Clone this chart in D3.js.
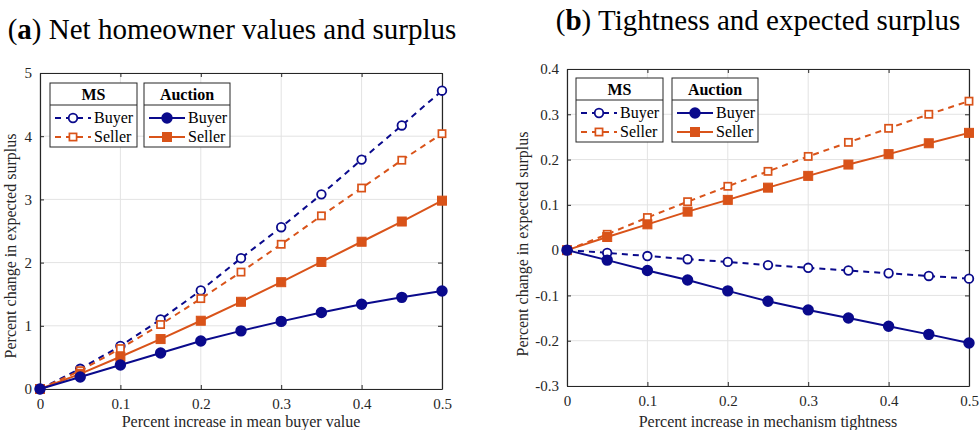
<!DOCTYPE html>
<html>
<head>
<meta charset="utf-8">
<script src="https://cdn.jsdelivr.net/npm/d3@7"></script>
<style>
  body { margin: 0; background: #fff; }
  text { font-family: "Liberation Serif", "Times New Roman", serif; }
</style>
</head>
<body>
<svg id="chart" width="979" height="430"></svg>
<script>
// x values shared by both panels
var xVals = [0, 0.05, 0.1, 0.15, 0.2, 0.25, 0.3, 0.35, 0.4, 0.45, 0.5];
var xTicks = [0, 0.1, 0.2, 0.3, 0.4, 0.5];

// panel (a) : net homeowner values
var aMsBuyer = [0, 0.32, 0.68, 1.10, 1.56, 2.07, 2.56, 3.08, 3.63, 4.17, 4.72];
var aMsSeller = [0, 0.29, 0.64, 1.02, 1.43, 1.85, 2.29, 2.74, 3.18, 3.62, 4.04];
var aAucBuyer = [0, 0.19, 0.38, 0.57, 0.76, 0.92, 1.07, 1.21, 1.34, 1.45, 1.55];
var aAucSeller = [0, 0.24, 0.51, 0.79, 1.08, 1.38, 1.69, 2.01, 2.33, 2.65, 2.98];
var aYTicks = [0, 1, 2, 3, 4, 5];

// panel (b) : tightness
var bMsBuyer = [0, -0.006, -0.013, -0.020, -0.026, -0.033, -0.039, -0.045, -0.051, -0.057, -0.063];
var bMsSeller = [0, 0.035, 0.072, 0.107, 0.141, 0.174, 0.207, 0.238, 0.269, 0.300, 0.329];
var bAucBuyer = [0, -0.022, -0.045, -0.066, -0.090, -0.113, -0.132, -0.150, -0.168, -0.186, -0.205];
var bAucSeller = [0, 0.029, 0.057, 0.085, 0.111, 0.138, 0.164, 0.189, 0.212, 0.236, 0.259];
var bYTicks = [-0.3, -0.2, -0.1, 0, 0.1, 0.2, 0.3, 0.4];

var blue = "#0a0a8c";
var orange = "#d95319";
var axisCol = "#262626";

var svg = d3.select("#chart");

function drawPanel(opt) {
  var x = d3.scaleLinear().domain([0, 0.5]).range([opt.left, opt.right]);
  var y = d3.scaleLinear().domain(opt.yDomain).range([opt.bottom, opt.top]);
  var g = svg.append("g");

  // grid
  g.selectAll(".gx").data(xTicks).enter().append("line")
    .attr("x1", function(d){ return x(d); }).attr("x2", function(d){ return x(d); })
    .attr("y1", opt.top).attr("y2", opt.bottom)
    .attr("stroke", "#e3e3e3").attr("stroke-width", 1);
  g.selectAll(".gy").data(opt.yTicks).enter().append("line")
    .attr("x1", opt.left).attr("x2", opt.right)
    .attr("y1", function(d){ return y(d); }).attr("y2", function(d){ return y(d); })
    .attr("stroke", "#e3e3e3").attr("stroke-width", 1);

  // axes, ticks inside (matlab box style)
  var fmt = function(d){ return d === 0 ? "0" : String(+d.toFixed(1)); };
  var bx = g.append("g").attr("transform", "translate(0," + opt.bottom + ")")
    .call(d3.axisBottom(x).tickValues(xTicks).tickSizeInner(-4).tickSizeOuter(0).tickPadding(9).tickFormat(fmt));
  var tx = g.append("g").attr("transform", "translate(0," + opt.top + ")")
    .call(d3.axisTop(x).tickValues(xTicks).tickSizeInner(-4).tickSizeOuter(0).tickFormat(""));
  var ly = g.append("g").attr("transform", "translate(" + opt.left + ",0)")
    .call(d3.axisLeft(y).tickValues(opt.yTicks).tickSizeInner(-4).tickSizeOuter(0).tickPadding(8).tickFormat(fmt));
  var ry = g.append("g").attr("transform", "translate(" + opt.right + ",0)")
    .call(d3.axisRight(y).tickValues(opt.yTicks).tickSizeInner(-4).tickSizeOuter(0).tickFormat(""));
  [bx, tx, ly, ry].forEach(function(a){
    a.select(".domain").attr("stroke", axisCol).attr("stroke-width", 1.2);
    a.selectAll(".tick line").attr("stroke", axisCol);
    a.selectAll("text").attr("fill", axisCol).style("font-size", "15px")
      .style("font-family", "'Liberation Serif', serif");
  });

  var line = d3.line().x(function(d, i){ return x(xVals[i]); }).y(function(d){ return y(d); });

  var series = [
    {vals: opt.msBuyer, col: blue, dash: "6,5", mark: "circle", fill: "#fff"},
    {vals: opt.msSeller, col: orange, dash: "6,5", mark: "square", fill: "#fff"},
    {vals: opt.aucSeller, col: orange, dash: null, mark: "square", fill: orange},
    {vals: opt.aucBuyer, col: blue, dash: null, mark: "circle", fill: blue}
  ];
  series.forEach(function(s){
    g.append("path").datum(s.vals).attr("d", line)
      .attr("fill", "none").attr("stroke", s.col).attr("stroke-width", 2)
      .attr("stroke-dasharray", s.dash);
    drawMarkers(g, s.vals.map(function(v, i){ return [x(xVals[i]), y(v)]; }), s);
  });

  // legends
  drawLegend(g, opt.legX, opt.legY, "MS", true);
  drawLegend(g, opt.legX + opt.legGap, opt.legY, "Auction", false);

  // labels
  svg.append("text").attr("x", (opt.left + opt.right) / 2).attr("y", 427)
    .attr("text-anchor", "middle").attr("fill", axisCol).style("font-size", "16px")
    .text(opt.xLabel);
  svg.append("text")
    .attr("transform", "translate(" + opt.yLabX + "," + opt.yLabY + ") rotate(-90)")
    .attr("text-anchor", "middle").attr("fill", axisCol).style("font-size", "16px")
    .text("Percent change in expected surplus");

  var t = svg.append("text").attr("x", opt.titleX).attr("y", opt.titleY)
    .attr("text-anchor", "middle").attr("fill", "#000").style("font-size", "29px");
  t.append("tspan").text("(");
  t.append("tspan").attr("font-weight", "bold").text(opt.tag);
  t.append("tspan").text(") " + opt.title);
}

function drawMarkers(g, pts, s) {
  if (s.mark === "circle") {
    g.selectAll(null).data(pts).enter().append("circle")
      .attr("cx", function(d){ return d[0]; }).attr("cy", function(d){ return d[1]; })
      .attr("r", s.fill === "#fff" ? 4.3 : 4.8)
      .attr("fill", s.fill).attr("stroke", s.col).attr("stroke-width", 1.8);
  } else {
    var h = s.fill === "#fff" ? 3.6 : 4.5;
    g.selectAll(null).data(pts).enter().append("rect")
      .attr("x", function(d){ return d[0] - h; }).attr("y", function(d){ return d[1] - h; })
      .attr("width", 2 * h).attr("height", 2 * h)
      .attr("fill", s.fill).attr("stroke", s.col).attr("stroke-width", s.fill === "#fff" ? 1.7 : 1);
  }
}

function drawLegend(g, lx, ly, head, open) {
  var w = open ? 87 : 86, hh = 22, h = 64;
  g.append("rect").attr("x", lx).attr("y", ly).attr("width", w).attr("height", h)
    .attr("fill", "#fff").attr("stroke", axisCol).attr("stroke-width", 1);
  g.append("line").attr("x1", lx).attr("x2", lx + w).attr("y1", ly + hh).attr("y2", ly + hh)
    .attr("stroke", axisCol).attr("stroke-width", 1);
  g.append("text").attr("x", lx + w / 2).attr("y", ly + 17).attr("text-anchor", "middle")
    .attr("font-weight", "bold").style("font-size", "16px").attr("fill", "#000").text(head);
  var rows = [{lab: "Buyer", col: blue, mark: "circle"}, {lab: "Seller", col: orange, mark: "square"}];
  rows.forEach(function(r, i){
    var yy = ly + hh + 13 + i * 19;
    g.append("line").attr("x1", lx + 5).attr("x2", lx + 41).attr("y1", yy).attr("y2", yy)
      .attr("stroke", r.col).attr("stroke-width", 2).attr("stroke-dasharray", open ? "6,5" : null);
    drawMarkers(g, [[lx + 23, yy]], {mark: r.mark, col: r.col, fill: open ? "#fff" : r.col});
    g.append("text").attr("x", lx + 44).attr("y", yy + 5).style("font-size", "16px")
      .attr("fill", "#000").text(r.lab);
  });
}

drawPanel({
  left: 40, right: 442, top: 73, bottom: 389,
  yDomain: [0, 5], yTicks: aYTicks,
  msBuyer: aMsBuyer, msSeller: aMsSeller, aucBuyer: aAucBuyer, aucSeller: aAucSeller,
  legX: 50, legY: 83, legGap: 94,
  xLabel: "Percent increase in mean buyer value",
  yLabX: 16, yLabY: 246,
  tag: "a", title: "Net homeowner values and surplus", titleX: 232, titleY: 39
});

drawPanel({
  left: 567, right: 969, top: 69, bottom: 386,
  yDomain: [-0.3, 0.4], yTicks: bYTicks,
  msBuyer: bMsBuyer, msSeller: bMsSeller, aucBuyer: bAucBuyer, aucSeller: bAucSeller,
  legX: 576, legY: 78, legGap: 96,
  xLabel: "Percent increase in mechanism tightness",
  yLabX: 528, yLabY: 244,
  tag: "b", title: "Tightness and expected surplus", titleX: 758, titleY: 30
});
</script>
</body>
</html>
